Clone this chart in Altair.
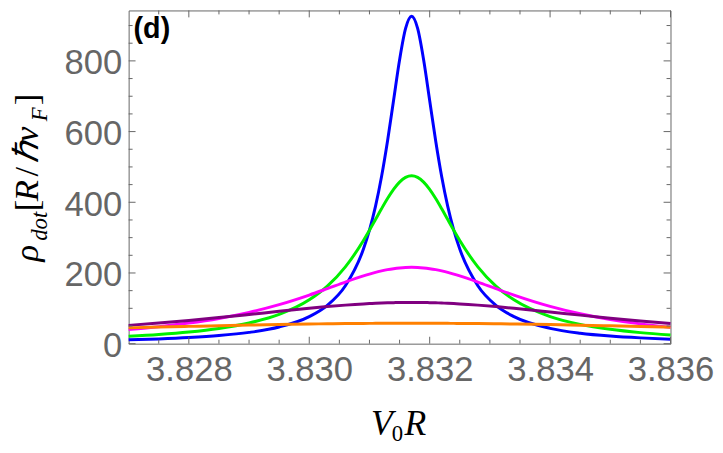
import altair as alt
import pandas as pd

# ---- data ----
x_vals = [3.8270, 3.8275, 3.8280, 3.8285, 3.8290, 3.8295, 3.8300, 3.8303, 3.8306,
          3.8309, 3.8310, 3.8311, 3.8312, 3.8313, 3.8314, 3.8315, 3.8316, 3.8317,
          3.8318, 3.8319, 3.8320, 3.8321, 3.8322, 3.8323, 3.8324, 3.8325,
          3.8328, 3.8331, 3.8334, 3.8340, 3.8345, 3.8350, 3.8355, 3.8360]
blue = [10.8, 13.5, 17.3, 22.9, 31.9, 47.2, 76.5, 108.4, 163.9,
        267.6, 321.1, 388.4, 472.2, 573.4, 688.0, 802.5, 891.7, 926.0,
        891.7, 802.5, 688.0, 573.4, 472.2, 388.4, 321.1, 267.6,
        163.9, 108.4, 76.5, 43.4, 29.7, 21.6, 16.4, 12.8]
green = [21.0, 26.0, 32.9, 43.0, 58.3, 82.6, 124.0, 162.7, 217.3,
         291.9, 320.9, 351.1, 381.5, 410.5, 436.5, 457.1, 470.4, 475.0,
         470.4, 457.1, 436.5, 410.5, 381.5, 351.1, 320.9, 291.9,
         217.3, 162.7, 124.0, 76.7, 54.7, 40.7, 31.3, 24.8]
magenta = [40.2, 48.1, 58.3, 71.4, 88.5, 110.4, 137.5, 155.7, 174.3,
           191.7, 196.9, 201.7, 205.8, 209.4, 212.2, 214.3, 215.6, 216.0,
           215.6, 214.3, 212.2, 209.4, 205.8, 201.7, 196.9, 191.7,
           174.3, 155.7, 137.5, 105.6, 84.7, 68.5, 56.0, 46.4]
purple = [51.8, 58.3, 65.7, 73.8, 82.5, 91.5, 100.2, 104.9, 109.1,
          112.5, 113.4, 114.3, 115.0, 115.6, 116.0, 116.5, 116.5, 116.6,
          116.5, 116.5, 116.0, 115.6, 115.0, 114.3, 113.4, 112.5,
          109.1, 104.9, 100.2, 89.7, 80.7, 72.1, 64.1, 56.9]
orange = [44.7, 46.9, 48.9, 50.9, 52.7, 54.3, 55.7, 56.3, 56.9,
          57.3, 57.4, 57.5, 57.6, 57.7, 57.8, 57.8, 57.8, 57.8,
          57.8, 57.8, 57.8, 57.7, 57.6, 57.5, 57.4, 57.3,
          56.9, 56.3, 55.7, 54.0, 52.4, 50.5, 48.5, 46.5]

series_names = ["blue", "green", "magenta", "purple", "orange"]
series_vals = [blue, green, magenta, purple, orange]
series_colors = ["#0000ff", "#00f000", "#ff00ff", "#800080", "#ff8000"]

x_major = [3.828, 3.830, 3.832, 3.834, 3.836]
x_minor = [3.8275, 3.8285, 3.8290, 3.8295, 3.8305, 3.8310, 3.8315, 3.8325, 3.8330,
           3.8335, 3.8345, 3.8350, 3.8355]
y_major = [0, 200, 400, 600, 800]
y_minor = [50, 100, 150, 250, 300, 350, 450, 500, 550, 650, 700, 750, 850, 900]

rows = []
for name, vals in zip(series_names, series_vals):
    for xv, yv in zip(x_vals, vals):
        rows.append({"s": name, "x": xv, "y": yv})
df = pd.DataFrame(rows)

W, H = 548, 337
GRAY = "#666666"
xs = alt.Scale(domain=[3.827, 3.836], nice=False, zero=False)
ys = alt.Scale(domain=[0, 942.7], nice=False, zero=False)

x_lab = alt.Axis(orient="bottom", values=x_major, format=".3f", labelFont="Liberation Sans",
                 labelFontSize=35, labelColor=GRAY, labelPadding=9, ticks=False, tickSize=0,
                 domain=False, grid=False, title="", labelFlush=False, labelOverlap=False)
y_lab = alt.Axis(orient="left", values=y_major, format="d", labelFont="Liberation Sans",
                 labelFontSize=35, labelColor=GRAY, labelPadding=7, labelOffset=2, ticks=False,
                 tickSize=0, domain=False, grid=False, title="", labelFlush=False,
                 labelOverlap=False)

layers = []
for i, (name, col) in enumerate(zip(series_names, series_colors)):
    xa = x_lab if i == 0 else None
    ya = y_lab if i == 0 else None
    layers.append(
        alt.Chart(df[df.s == name]).mark_line(color=col, strokeWidth=3, interpolate="monotone")
        .encode(x=alt.X("x:Q", scale=xs, axis=xa), y=alt.Y("y:Q", scale=ys, axis=ya))
    )

# inward frame ticks, placed through the scales
xt_major = pd.DataFrame({"v": x_major})
xt_minor = pd.DataFrame({"v": x_minor})
yt_major = pd.DataFrame({"v": y_major})
yt_minor = pd.DataFrame({"v": y_minor})

for tdf, ln in [(xt_major, 7), (xt_minor, 4)]:
    for base, tip in [(H, H - ln), (0, ln)]:
        layers.append(
            alt.Chart(tdf).mark_rule(color=GRAY, strokeWidth=1).encode(
                x=alt.X("v:Q", scale=xs, axis=None),
                y=alt.value(base), y2=alt.value(tip))
        )
for tdf, ln in [(yt_major, 7), (yt_minor, 4)]:
    for base, tip in [(0, ln), (W, W - ln)]:
        layers.append(
            alt.Chart(tdf).mark_rule(color=GRAY, strokeWidth=1).encode(
                y=alt.Y("v:Q", scale=ys, axis=None),
                x=alt.value(base), x2=alt.value(tip))
        )


def txt(s, x, y, size, angle=0, italic=True, font="Liberation Serif", weight="normal"):
    return alt.Chart(alt.Data(values=[{"k": 0}])).mark_text(
        text=s, font=font, fontSize=size, fontStyle="italic" if italic else "normal",
        fontWeight=weight, align="left", baseline="alphabetic", angle=angle, color="black"
    ).encode(x=alt.value(x), y=alt.value(y))


# y title: rho_dot [R / hbar v_F]
layers += [
    txt("ρ", -92, 254, 35, angle=270),
    txt("dot", -83, 233, 23, angle=270),
    txt("[", -92, 203, 35, angle=270, italic=False),
    txt("R", -92, 193, 35, angle=270),
    txt("/", -92, 168, 35, angle=270, italic=False),
    txt("ℏ", -92, 154, 35, angle=270),
    txt("v", -92, 133, 35, angle=270),
    txt("F", -83, 112, 23, angle=270),
    txt("]", -92, 96, 35, angle=270, italic=False),
]
# x title: V_0 R
layers += [
    txt("V", 245, 429, 36),
    txt("0", 266, 435, 23, italic=False),
    txt("R", 279, 429, 36),
]
# panel label
layers.append(txt("(d)", 5, 28, 29, italic=False, font="Liberation Sans", weight="bold"))

chart = (
    alt.layer(*layers)
    .resolve_scale(x="shared", y="shared")
    .resolve_axis(x="independent", y="independent")
    .properties(width=W, height=H, autosize=alt.AutoSizeParams(type="none"),
                padding={"left": 122, "top": 0, "right": 45, "bottom": 100},
                background="white")
    .configure_view(stroke=GRAY, strokeWidth=1)
)

chart.save("out.html", embed_options={"renderer": "svg", "actions": False})
